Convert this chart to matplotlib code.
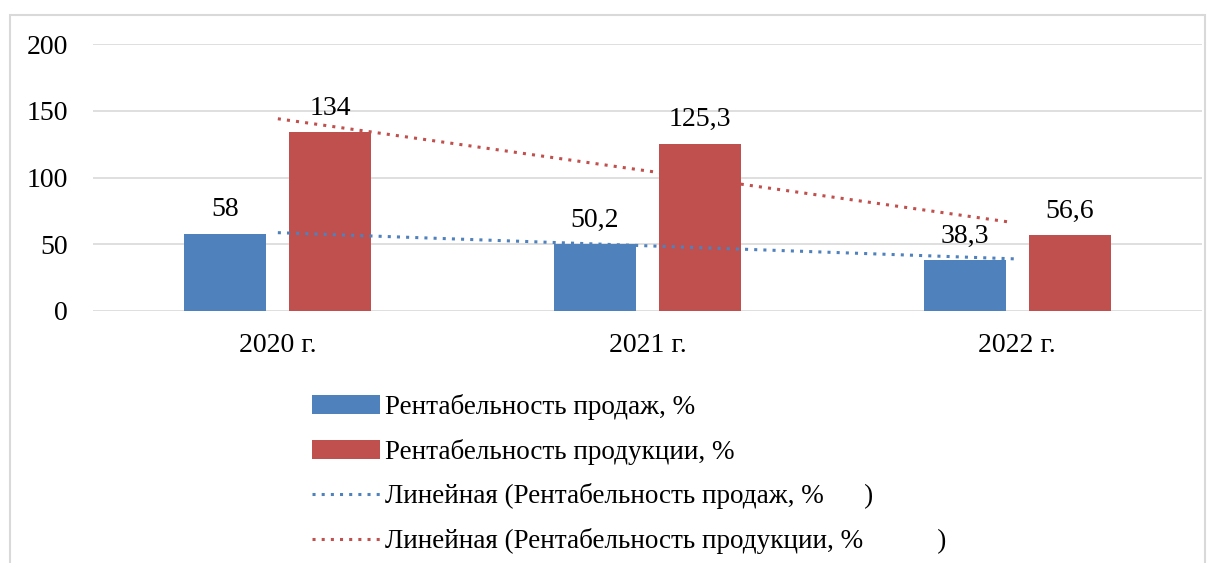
import matplotlib.pyplot as plt
import matplotlib.patches as mpatches
import numpy as np

# данные
years = ['2020 г.', '2021 г.', '2022 г.']
sales = [58, 50.2, 38.3]
production = [134, 125.3, 56.6]
label_sales = 'Рентабельность продаж, %'
label_prod = 'Рентабельность продукции, %'
label_trend_sales = 'Линейная (Рентабельность продаж, %      )'
label_trend_prod = 'Линейная (Рентабельность продукции, %           )'
yticks = [0, 50, 100, 150, 200]

BLUE = '#4F81BD'
RED = '#C0504D'
GRID = '#D9D9D9'

plt.rcParams['font.family'] = ['Liberation Serif', 'DejaVu Serif']


def fmt(v):
    s = f'{v:g}'
    return s.replace('.', ',')


def main():
    fig = plt.figure(figsize=(12.16, 5.63), dpi=100)
    fig.patches.append(mpatches.Rectangle((10 / 1216, -0.05), 1195 / 1216, 1 - 15 / 563 + 0.05,
                                          transform=fig.transFigure, fill=False,
                                          edgecolor='#D9D9D9', linewidth=1.5))

    ax = fig.add_axes([93 / 1216, 1 - 311 / 563, 1109 / 1216, 267 / 563])
    x = np.arange(len(years))
    w = 0.222
    off = 0.142

    b1 = ax.bar(x - off, sales, w, color=BLUE, label=label_sales, zorder=2)
    b2 = ax.bar(x + off, production, w, color=RED, label=label_prod, zorder=2)

    for xi, v in zip(x, sales):
        ax.text(xi - off, v + 13, fmt(v), ha='center', va='baseline', fontsize=20)
    for xi, v in zip(x, production):
        ax.text(xi + off, v + 13, fmt(v), ha='center', va='baseline', fontsize=20)

    # линии тренда
    xt = np.array([x[0], x[-1]], dtype=float)
    k1, c1 = np.polyfit(x, sales, 1)
    k2, c2 = np.polyfit(x, production, 1)
    l1, = ax.plot(xt, k1 * xt + c1, linestyle=(0, (1, 2)), color=BLUE, linewidth=2.2,
                  label=label_trend_sales, zorder=3)
    l2, = ax.plot(xt - np.array([0, 0.02]), k2 * xt + c2, linestyle=(0, (1, 2)), color=RED,
                  linewidth=2.2, label=label_trend_prod, zorder=3)

    ax.set_xlim(-0.5, 2.5)
    ax.set_ylim(0, 200)
    ax.set_yticks(yticks)
    ax.set_xticks(x)
    ax.set_xticklabels(years)
    ax.tick_params(axis='both', length=0, labelsize=20)
    ax.tick_params(axis='y', pad=18)
    ax.tick_params(axis='x', pad=16)
    ax.yaxis.grid(True, color=GRID, linewidth=1.2, zorder=0)
    for s in ax.spines.values():
        s.set_visible(False)

    fig.legend(handles=[b1, b2, l1, l2],
               loc='upper left', bbox_to_anchor=(312 / 1216, 1 - 394 / 563),
               frameon=False, fontsize=19.5, handlelength=2.5, handletextpad=0.2,
               labelspacing=0.69, borderpad=0, borderaxespad=0)

    plt.savefig('out.png', dpi=100)
    plt.close()


if __name__ == "__main__":
    main()
